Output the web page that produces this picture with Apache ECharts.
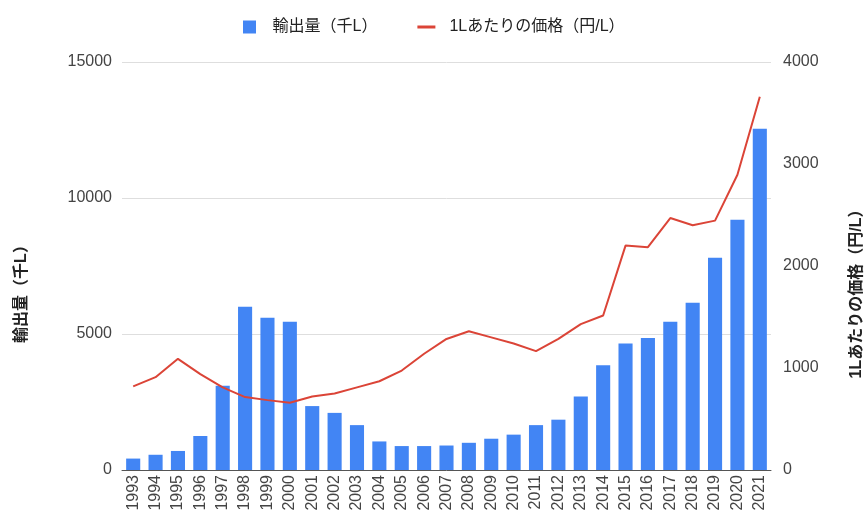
<!DOCTYPE html>
<html>
<head>
<meta charset="utf-8">
<script src="https://cdn.jsdelivr.net/npm/echarts@6/dist/echarts.min.js"></script>
<style>
  html, body { margin: 0; padding: 0; background: #fff; }
  #chart { width: 865px; height: 522px; }
</style>
</head>
<body>
<div id="chart"></div>
<script>
// 年ごとの輸出量と1Lあたりの価格
const years = ['1993','1994','1995','1996','1997','1998','1999','2000','2001','2002',
  '2003','2004','2005','2006','2007','2008','2009','2010','2011','2012','2013','2014',
  '2015','2016','2017','2018','2019','2020','2021'];
const exportVolume = [420, 560, 700, 1250, 3100, 6000, 5600, 5450, 2350, 2100,
  1650, 1050, 880, 880, 900, 1000, 1150, 1300, 1650, 1850, 2700, 3850,
  4650, 4850, 5450, 6150, 7800, 9200, 12550];
const pricePerLiter = [820, 910, 1090, 940, 810, 715, 685, 660, 720, 750,
  810, 870, 975, 1140, 1285, 1360, 1300, 1240, 1165, 1285, 1430, 1515,
  2200, 2185, 2470, 2400, 2445, 2895, 3660];
const leftTicks = { min: 0, max: 15000, interval: 5000 };
const rightTicks = { min: 0, max: 4000, interval: 1000 };

const volumeName = '輸出量（千L）';
const priceName = '1Lあたりの価格（円/L）';

const FONT = '"Liberation Sans", Arial, "Noto Sans CJK JP", sans-serif';
const plain = v => String(v);

const chart = echarts.init(document.getElementById('chart'), null, { renderer: 'canvas' });
chart.setOption({
  animation: false,
  backgroundColor: '#ffffff',
  textStyle: { fontFamily: FONT },
  legend: {
    top: 14,
    left: 238,
    itemWidth: 18,
    itemHeight: 13,
    itemGap: 40,
    textStyle: { fontFamily: FONT, fontSize: 16, color: '#222', padding: [0, 0, 0, 9] },
    data: [
      { name: volumeName, icon: 'path://M0,0 L13,0 L13,13 L0,13 Z' },
      { name: priceName, icon: 'path://M0,0 L18,0 L18,3 L0,3 Z' }
    ]
  },
  grid: { left: 122, right: 94, top: 62, bottom: 52, outerBoundsMode: 'none' },
  xAxis: {
    type: 'category',
    data: years,
    axisLine: { lineStyle: { color: '#555', width: 1 } },
    axisTick: { show: false },
    axisLabel: { rotate: 90, interval: 0, fontSize: 16, color: '#444', margin: 5, fontFamily: FONT }
  },
  yAxis: [
    {
      type: 'value',
      min: leftTicks.min, max: leftTicks.max, interval: leftTicks.interval,
      name: volumeName,
      nameLocation: 'middle',
      nameGap: 92,
      nameTextStyle: { fontSize: 16, color: '#222', fontWeight: 'bold', fontFamily: FONT, padding: [0, 48, 0, 0] },
      axisLine: { show: false },
      axisTick: { show: false },
      axisLabel: { fontSize: 16, color: '#444', margin: 10, fontFamily: FONT, formatter: plain },
      splitLine: { lineStyle: { color: '#dedede', width: 1 } }
    },
    {
      type: 'value',
      min: rightTicks.min, max: rightTicks.max, interval: rightTicks.interval,
      name: priceName,
      nameLocation: 'middle',
      nameGap: 78,
      nameTextStyle: { fontSize: 16, color: '#222', fontWeight: 'bold', fontFamily: FONT, padding: [0, 48, 0, 0] },
      axisLine: { show: false },
      axisTick: { show: false },
      axisLabel: { fontSize: 16, color: '#444', margin: 12, fontFamily: FONT, formatter: plain },
      splitLine: { show: false }
    }
  ],
  series: [
    {
      name: volumeName,
      type: 'bar',
      yAxisIndex: 0,
      data: exportVolume,
      barCategoryGap: '37%',
      itemStyle: { color: '#4285F4' }
    },
    {
      name: priceName,
      type: 'line',
      yAxisIndex: 1,
      data: pricePerLiter,
      symbol: 'none',
      lineStyle: { color: '#DB4437', width: 2 },
      itemStyle: { color: '#DB4437' }
    }
  ]
});
</script>
</body>
</html>
